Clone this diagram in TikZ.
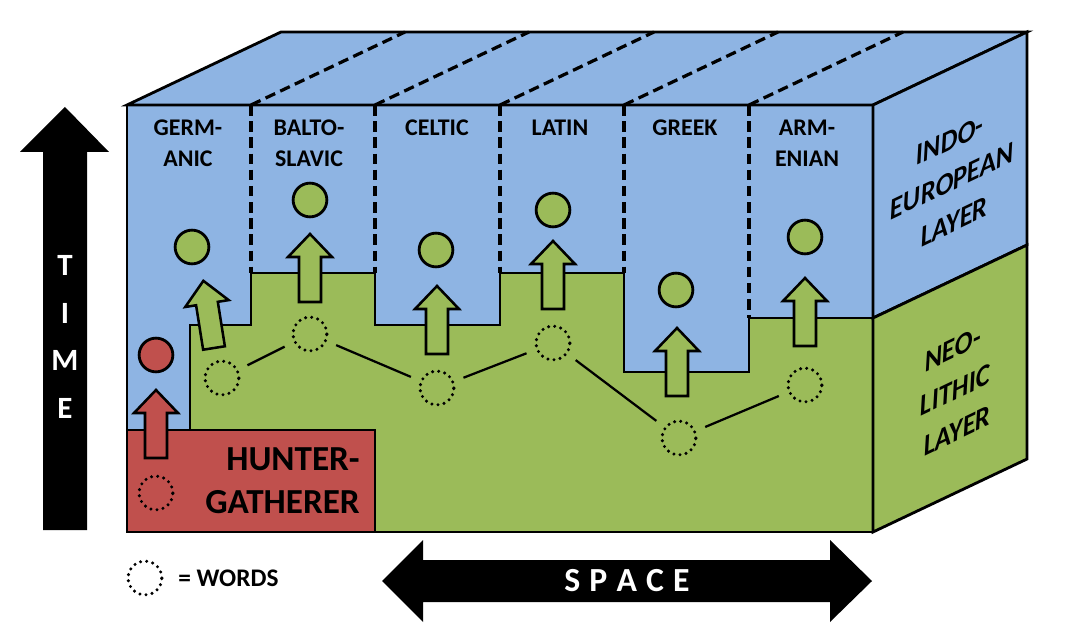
\documentclass[tikz,border=0pt]{standalone}
\usepackage{fontspec}
\setmainfont{Carlito}
\definecolor{ieblue}{RGB}{142,180,227}
\definecolor{neogreen}{RGB}{155,187,89}
\definecolor{hgred}{RGB}{192,80,77}
\tikzset{
    pics/blockarrow/.style={code={
        \draw[line width=1.8pt, fill=#1] (-11,0) -- (-11,45) -- (-22,45) -- (0,68) -- (22,45) -- (11,45) -- (11,0) -- cycle;
    }}
}
\begin{document}
\begin{tikzpicture}[
    x=0.25mm, y=0.25mm,
    rim/.style={line width=2pt},
    divider/.style={line width=2.3pt, dash pattern=on 7.5pt off 4pt},
    words/.style={circle, draw, line width=2.4pt, dash pattern=on 0pt off 4.4pt, line cap=round, minimum size=24pt, inner sep=0pt},
    dot/.style={circle, draw, line width=2pt, minimum size=24pt, inner sep=0pt},
    link/.style={line width=1.6pt, shorten >=7pt, shorten <=7pt},
    langname/.style={font=\fontsize{17}{22}\selectfont\bfseries, align=center, anchor=north, inner sep=0pt},
    layertext/.style={font=\fontsize{21}{29}\selectfont\bfseries\itshape, align=center, cm={0.9,0.43,-0.05,1,(0,0)}}
]
\useasboundingbox (0,0) rectangle (1077,630);

% front face
\fill[ieblue] (127,98) rectangle (873,525);
\draw[rim, fill=neogreen] (190,200) -- (190,305) -- (251,305) -- (251,357) -- (375,357) -- (375,305)
    -- (500,305) -- (500,357) -- (624,357) -- (624,258) -- (749,258) -- (749,312) -- (873,312)
    -- (873,98) -- (375,98) -- (375,200) -- cycle;
\draw[rim, fill=hgred] (127,98) rectangle (375,200);
\foreach \x in {251,375,500,624} \draw[divider] (\x,525) -- (\x,357);
\draw[divider] (749,525) -- (749,312);

% words
\node[words] (wH) at (156,137) {};
\node[words] (wG) at (222,252) {};
\node[words] (wB) at (310,296) {};
\node[words] (wC) at (437,242) {};
\node[words] (wL) at (553,287) {};
\node[words] (wK) at (679,192) {};
\node[words] (wA) at (805,245) {};
\draw[link] (wG) -- (wB);
\draw[link] (wB) -- (wC);
\draw[link] (wC) -- (wL);
\draw[link] (wL) -- (wK);
\draw[link] (wK) -- (wA);

% block arrows
\pic[rotate=9] at (214,282) {blockarrow=neogreen};
\pic at (310,328) {blockarrow=neogreen};
\pic at (437,276) {blockarrow=neogreen};
\pic at (553,321) {blockarrow=neogreen};
\pic at (677,234) {blockarrow=neogreen};
\pic at (805,284) {blockarrow=neogreen};
\pic at (156,172) {blockarrow=hgred};

% solid circles
\node[dot, fill=hgred] (dH) at (156,275) {};
\node[dot, fill=neogreen] (dG) at (192,383) {};
\node[dot, fill=neogreen] (dB) at (310,430) {};
\node[dot, fill=neogreen] (dC) at (436,380) {};
\node[dot, fill=neogreen] (dL) at (553,420) {};
\node[dot, fill=neogreen] (dK) at (676,340) {};
\node[dot, fill=neogreen] (dA) at (805,393) {};

\draw[rim] (127,98) rectangle (873,525);

% top and side faces
\draw[rim, fill=ieblue] (127,525) -- (281,598) -- (1027,598) -- (873,525) -- cycle;
\foreach \x in {251,375,500,624,749} \draw[divider] (\x,525) -- (\x+154,598);
\draw[rim, fill=ieblue] (873,312) -- (873,525) -- (1027,598) -- (1027,385) -- cycle;
\draw[rim, fill=neogreen] (873,98) -- (873,312) -- (1027,385) -- (1027,171) -- cycle;

% labels
\node[langname] (germ) at (188,510) {GERM-\\ANIC};
\node[langname] (balt) at (309,510) {BALTO-\\SLAVIC};
\node[langname] (celt) at (437,510) {CELTIC};
\node[langname] (lat) at (560,510) {LATIN};
\node[langname] (grk) at (685,510) {GREEK};
\node[langname] (arm) at (807,510) {ARM-\\ENIAN};
\node[font=\fontsize{25}{31}\selectfont\bfseries, align=right, anchor=north east, inner sep=0pt] (hg) at (360,183) {HUNTER-\\GATHERER};
\node[layertext] (ie) at (952,449) {INDO-\\EUROPEAN\\LAYER};
\node[layertext] (neo) at (955,240) {NEO-\\LITHIC\\LAYER};

% time and space axes
\fill (43,100) -- (43,478) -- (20,478) -- (65,523) -- (109,478) -- (87,478) -- (87,100) -- cycle;
\node[font=\fontsize{22}{34}\selectfont\bfseries, text=white, align=center] (time) at (65,293) {T\\I\\M\\E};
\fill (382,49) -- (423,90) -- (423,70) -- (830,70) -- (830,90) -- (872,49) -- (830,8) -- (830,28)
    -- (423,28) -- (423,8) -- cycle;
\node[font=\fontsize{24}{28}\selectfont\bfseries, text=white] (space) at (627,49) {S\kern6.5pt P\kern6.5pt A\kern6.5pt C\kern6.5pt E};

% legend
\node[words] (wkey) at (145,52) {};
\node[font=\fontsize{18}{20}\selectfont\bfseries, anchor=west, inner sep=0pt] (key) at (178,52) {= WORDS};
\end{tikzpicture}
\end{document}
